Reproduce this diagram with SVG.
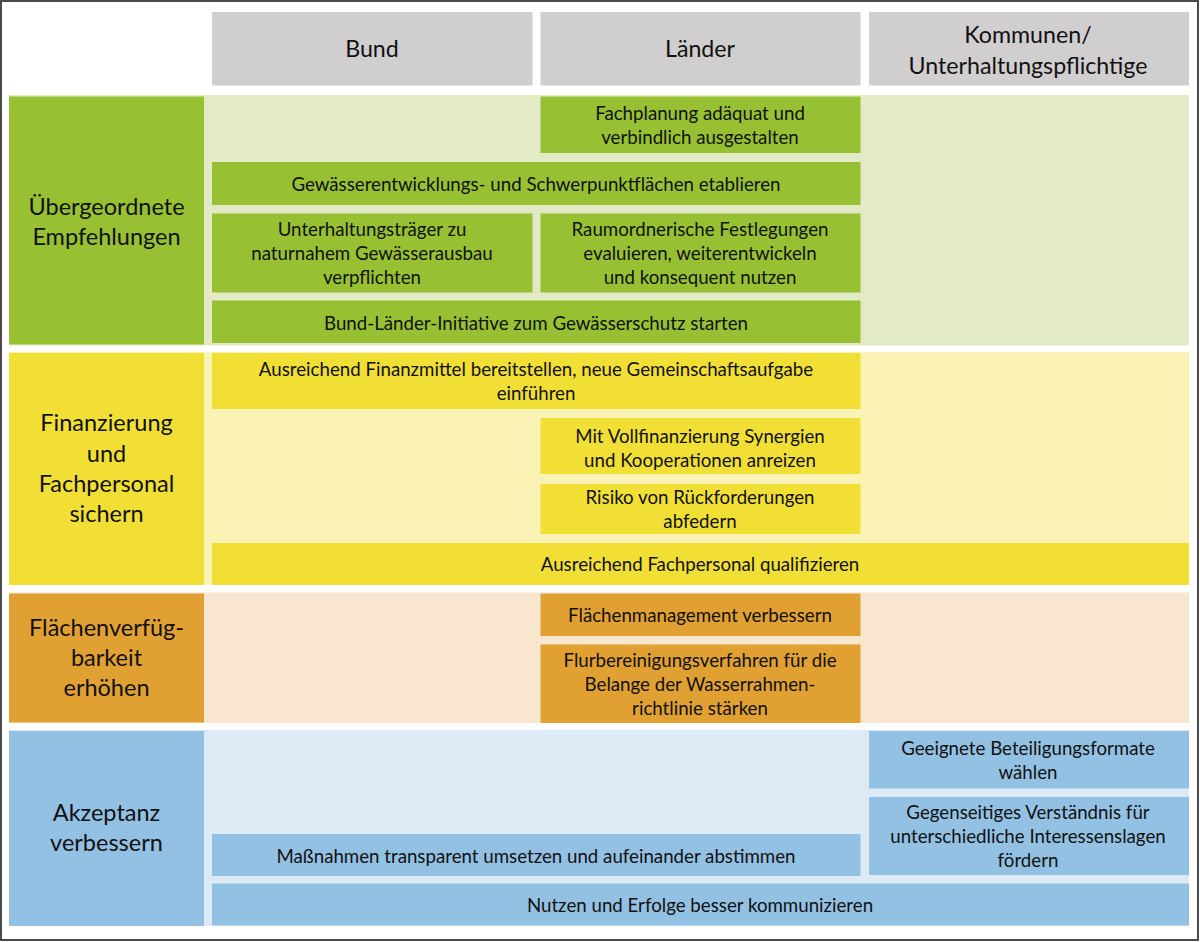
<svg xmlns="http://www.w3.org/2000/svg" width="1200" height="942" viewBox="0 0 1200 942">
<style>
text{font-family:Lato,"Open Sans","Liberation Sans",sans-serif;fill:#111;text-anchor:middle}
.t{font-size:18.7px}
.h{font-size:23.5px}
.hh{font-size:23.2px}
.hd{fill:#D0CECE}
.g{fill:#97C133}.gl{fill:#E2EBC6}
.y{fill:#F1DF35}.yl{fill:#FBF3B5}
.o{fill:#E0A032}.ol{fill:#F8E6CF}
.b{fill:#93C1E3}.bl{fill:#DBEAF5}
</style>
<rect x="0" y="0" width="1200" height="942" fill="#fff"/>
<g id="backgrounds">
<rect class="gl" x="9" y="95" width="1180" height="250.5"/>
<rect class="yl" x="9" y="352" width="1180" height="233"/>
<rect class="ol" x="9" y="592.5" width="1180" height="130.5"/>
<rect class="bl" x="9" y="730" width="1180" height="196"/>
</g>
<g id="header-bund"><rect class="hd" x="212" y="12" width="320.5" height="73.5"/><text class="hh" x="372" y="57">Bund</text></g>
<g id="header-laender"><rect class="hd" x="540.5" y="12" width="320" height="73.5"/><text class="hh" x="700" y="57">Länder</text></g>
<g id="header-kommunen"><rect class="hd" x="869" y="12" width="320" height="73.5"/><text class="hh" x="1028" y="43">Kommunen/</text><text class="hh" x="1028" y="74">Unterhaltungspflichtige</text></g>

<g id="label-uebergeordnet"><rect class="g" x="9" y="96.5" width="195" height="248"/><text class="h" x="106.5" y="215">Übergeordnete</text><text class="h" x="106.5" y="245">Empfehlungen</text></g>
<g id="label-finanzierung"><rect class="y" x="9" y="353" width="195" height="232"/><text class="h" x="106.5" y="431">Finanzierung</text><text class="h" x="106.5" y="461.5">und</text><text class="h" x="106.5" y="492">Fachpersonal</text><text class="h" x="106.5" y="522">sichern</text></g>
<g id="label-flaechen"><rect class="o" x="9" y="593.5" width="195" height="129"/><text class="h" x="106.5" y="636">Flächenverfüg-</text><text class="h" x="106.5" y="666">barkeit</text><text class="h" x="106.5" y="696">erhöhen</text></g>
<g id="label-akzeptanz"><rect class="b" x="9" y="731" width="195" height="195"/><text class="h" x="106.5" y="821">Akzeptanz</text><text class="h" x="106.5" y="851">verbessern</text></g>

<g id="fachplanung"><rect class="g" x="540.5" y="96.5" width="320" height="56.5"/><text class="t" x="700" y="119.5">Fachplanung adäquat und</text><text class="t" x="700" y="143.5">verbindlich ausgestalten</text></g>
<g id="gewaesserentwicklung"><rect class="g" x="212" y="162" width="648.5" height="43"/><text class="t" x="536" y="190.5">Gewässerentwicklungs- und Schwerpunktflächen etablieren</text></g>
<g id="unterhaltungstraeger"><rect class="g" x="212" y="213.5" width="320.5" height="79"/><text class="t" x="372" y="235.5">Unterhaltungsträger zu</text><text class="t" x="372" y="259.5">naturnahem Gewässerausbau</text><text class="t" x="372" y="283.5">verpflichten</text></g>
<g id="raumordnung"><rect class="g" x="540.5" y="213.5" width="320" height="79"/><text class="t" x="700" y="235.5">Raumordnerische Festlegungen</text><text class="t" x="700" y="259.5">evaluieren, weiterentwickeln</text><text class="t" x="700" y="283.5">und konsequent nutzen</text></g>
<g id="bund-laender-initiative"><rect class="g" x="212" y="300.5" width="648.5" height="42.5"/><text class="t" x="536" y="329.5">Bund-Länder-Initiative zum Gewässerschutz starten</text></g>

<g id="finanzmittel"><rect class="y" x="212" y="353" width="648.5" height="56"/><text class="t" x="536" y="375.5">Ausreichend Finanzmittel bereitstellen, neue Gemeinschaftsaufgabe</text><text class="t" x="536" y="399.5">einführen</text></g>
<g id="vollfinanzierung"><rect class="y" x="540.5" y="418" width="320" height="56"/><text class="t" x="700" y="442.5">Mit Vollfinanzierung Synergien</text><text class="t" x="700" y="466.5">und Kooperationen anreizen</text></g>
<g id="rueckforderungen"><rect class="y" x="540.5" y="484" width="320" height="50"/><text class="t" x="700" y="503.5">Risiko von Rückforderungen</text><text class="t" x="700" y="527.5">abfedern</text></g>
<g id="fachpersonal"><rect class="y" x="212" y="543" width="977" height="42"/><text class="t" x="700" y="570.5">Ausreichend Fachpersonal qualifizieren</text></g>

<g id="flaechenmanagement"><rect class="o" x="540.5" y="593.5" width="320" height="42.5"/><text class="t" x="700" y="621.5">Flächenmanagement verbessern</text></g>
<g id="flurbereinigung"><rect class="o" x="540.5" y="644.5" width="320" height="78.5"/><text class="t" x="700" y="666.5">Flurbereinigungsverfahren für die</text><text class="t" x="700" y="690.5">Belange der Wasserrahmen-</text><text class="t" x="700" y="714.5">richtlinie stärken</text></g>

<g id="beteiligungsformate"><rect class="b" x="869" y="731" width="320" height="57.5"/><text class="t" x="1028" y="754.5">Geeignete Beteiligungsformate</text><text class="t" x="1028" y="778.5">wählen</text></g>
<g id="verstaendnis"><rect class="b" x="869" y="797" width="320" height="78"/><text class="t" x="1028" y="818.5">Gegenseitiges Verständnis für</text><text class="t" x="1028" y="842.5">unterschiedliche Interessenslagen</text><text class="t" x="1028" y="866.5">fördern</text></g>
<g id="massnahmen"><rect class="b" x="212" y="834" width="648.5" height="42"/><text class="t" x="536" y="862.5">Maßnahmen transparent umsetzen und aufeinander abstimmen</text></g>
<g id="nutzen"><rect class="b" x="212" y="883.5" width="977" height="42"/><text class="t" x="700" y="911.5">Nutzen und Erfolge besser kommunizieren</text></g>

<g id="connectors"/>
<rect x="1" y="1" width="1197" height="939" fill="none" stroke="#4a4a4a" stroke-width="2"/>
</svg>
